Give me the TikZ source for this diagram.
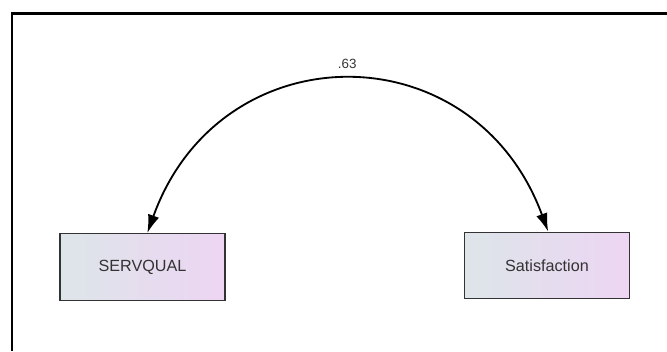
\documentclass[tikz,border=0pt]{standalone}
\usepackage{fontspec}
\setmainfont{Liberation Sans}
\usepackage{xcolor}
\usepackage{tikz}
\usetikzlibrary{arrows.meta,positioning,calc}
\definecolor{boxleft}{HTML}{DDE5E9}
\definecolor{boxright}{HTML}{EDD5F3}
\definecolor{boxedge}{HTML}{333333}
\tikzset{
  varbox/.style={draw=boxedge,line width=0.9pt,left color=boxleft,right color=boxright,
    minimum width=4.12cm,minimum height=1.66cm,inner sep=0pt,
    font=\fontsize{11.5}{13}\selectfont,text=black!80},
  covarrow/.style={{Latex[length=4.6mm,width=2.9mm]}-{Latex[length=4.6mm,width=2.9mm]},line width=1.3pt},
  figurelabel/.style={font=\fontsize{9.5}{10}\selectfont,text=black!80,inner sep=1pt}
}
\begin{document}
\begin{tikzpicture}[x=0.025cm,y=-0.025cm]
  \useasboundingbox (0,0) rectangle (667,351);
  % outer frame
  \draw[line width=2pt] (12,351) -- (12,13.3) -- (667,13.3);
  \node[varbox] (servqual) at (142.5,267) {SERVQUAL};
  \node[varbox] (satisfaction) at (547,265.5) {Satisfaction};
  \draw[covarrow] ([xshift=0.12cm]servqual.north) to[bend left=70,looseness=1.37]
    node[figurelabel,above=0.24cm] (corr) {.63} ([xshift=0.03cm]satisfaction.north);
\end{tikzpicture}
\end{document}
